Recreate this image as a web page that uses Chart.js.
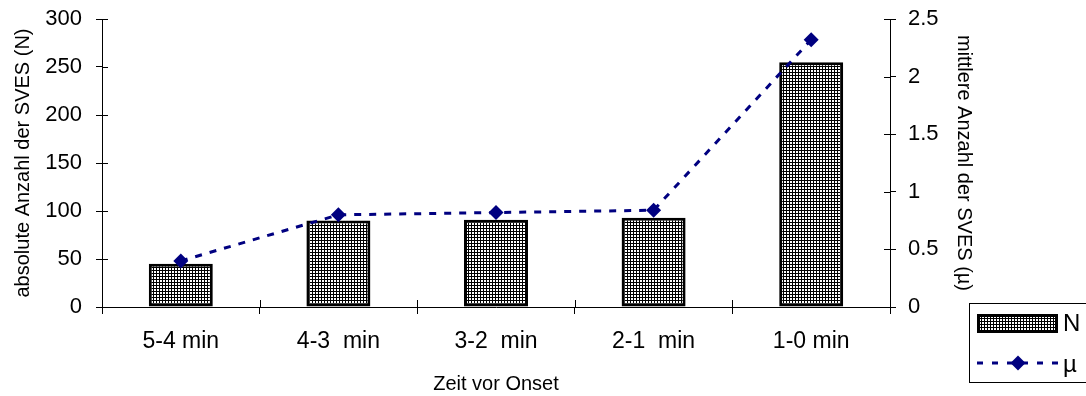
<!DOCTYPE html>
<html lang="de">
<head>
<meta charset="UTF-8">
<title>SVES vor Onset</title>
<style>
    body { margin: 0; padding: 0; background: #fff; }
    #wrap { width: 1086px; height: 396px; }
</style>
</head>
<body>
<div id="wrap"><canvas id="chart" width="1086" height="396"></canvas></div>

<script src="https://cdn.jsdelivr.net/npm/chart.js"></script>
<script>
// data
const categories = ['5-4 min', '4-3  min', '3-2  min', '2-1  min', '1-0 min'];
const countN = [45, 90, 91, 93, 255];
const meanMu = [0.40, 0.80, 0.82, 0.84, 2.32];

const FONT = "'Liberation Sans', Arial, sans-serif";
const NAVY = '#000080';

// fine crosshatch used for the bars
function hatch(ctx) {
    const tile = document.createElement('canvas');
    tile.width = 3; tile.height = 3;
    const t = tile.getContext('2d');
    t.fillStyle = '#fff';
    t.fillRect(0, 0, 3, 3);
    t.fillStyle = '#000';
    t.fillRect(0, 0, 3, 1);
    t.fillRect(0, 0, 1, 3);
    return ctx.createPattern(tile, 'repeat');
}

const ctx = document.getElementById('chart').getContext('2d');
const barFill = hatch(ctx);

// tick marks that also cross into the plot area
const innerTicks = {
    id: 'innerTicks',
    afterDraw(chart) {
        const c = chart.ctx;
        const { x, y, y1 } = chart.scales;
        c.save();
        c.strokeStyle = '#000';
        c.lineWidth = 1;
        c.beginPath();
        y.ticks.forEach((t, i) => {
            const py = Math.round(y.getPixelForTick(i)) + 0.5;
            c.moveTo(y.right, py); c.lineTo(y.right + 6, py);
        });
        y1.ticks.forEach((t, i) => {
            const py = Math.round(y1.getPixelForTick(i)) + 0.5;
            c.moveTo(y1.left - 6, py); c.lineTo(y1.left, py);
        });
        for (let i = 0; i <= categories.length; i++) {
            const px = Math.round(x.getPixelForValue(i - 0.5)) + 0.5;
            c.moveTo(px, x.top - 7); c.lineTo(px, x.top);
        }
        c.stroke();
        c.restore();
    }
};

// legend box at bottom right
const boxLegend = {
    id: 'boxLegend',
    afterDraw(chart) {
        const c = chart.ctx;
        c.save();
        c.strokeStyle = '#000';
        c.lineWidth = 1;
        c.strokeRect(969.5, 303.5, 130, 79);

        c.fillStyle = barFill;
        c.fillRect(977, 314, 81, 19);
        c.lineWidth = 3;
        c.strokeRect(978.5, 315.5, 78, 16);

        c.strokeStyle = NAVY;
        c.lineWidth = 3;
        c.setLineDash([6, 9]);
        c.beginPath();
        c.moveTo(977, 363); c.lineTo(1062, 363);
        c.stroke();
        c.setLineDash([]);
        c.fillStyle = NAVY;
        c.beginPath();
        c.moveTo(1018, 355.5); c.lineTo(1025.5, 363); c.lineTo(1018, 370.5); c.lineTo(1010.5, 363);
        c.closePath();
        c.fill();

        c.fillStyle = '#000';
        c.font = '24px ' + FONT;
        c.textBaseline = 'middle';
        c.textAlign = 'left';
        c.fillText('N', 1063, 324);
        c.fillText('µ', 1063, 365);
        c.restore();
    }
};

new Chart(ctx, {
    type: 'bar',
    data: {
        labels: categories,
        datasets: [{
            label: 'N',
            data: countN,
            yAxisID: 'y',
            backgroundColor: barFill,
            borderColor: '#000',
            borderWidth: 3,
            borderSkipped: false,
            categoryPercentage: 1,
            barPercentage: 0.406,
            order: 2
        }, {
            type: 'line',
            label: 'µ',
            data: meanMu,
            yAxisID: 'y1',
            borderColor: NAVY,
            borderWidth: 3,
            borderDash: [7, 8],
            pointStyle: 'rectRot',
            pointRadius: 7.5,
            pointBackgroundColor: NAVY,
            pointBorderColor: NAVY,
            pointBorderWidth: 0,
            tension: 0,
            order: 1
        }]
    },
    options: {
        responsive: false,
        devicePixelRatio: 1,
        animation: false,
        layout: { padding: { top: 19, left: 0, right: 110, bottom: 0 } },
        plugins: {
            legend: { display: false },
            tooltip: { enabled: false }
        },
        scales: {
            x: {
                grid: { display: true, offset: true, drawOnChartArea: false, tickLength: 7, color: '#000' },
                border: { display: true, color: '#000' },
                ticks: { color: '#000', font: { family: FONT, size: 23 }, padding: 14, maxRotation: 0 },
                title: { display: true, text: 'Zeit vor Onset', color: '#000', font: { family: FONT, size: 20 }, padding: { top: 0, bottom: 0 } },
                afterFit(s) { s.height = 89; s.paddingLeft = 0; s.paddingRight = 0; }
            },
            y: {
                position: 'left',
                min: 0, max: 300,
                ticks: { stepSize: 50, color: '#000', font: { family: FONT, size: 22 }, padding: 14 },
                grid: { drawOnChartArea: false, tickLength: 6, color: '#000' },
                border: { display: true, color: '#000' },
                title: { display: true, text: 'absolute Anzahl der SVES (N)', color: '#000', font: { family: FONT, size: 20 }, padding: { top: 11, bottom: 0 } },
                afterFit(s) { s.width = 102; s.paddingTop = 0; s.paddingBottom = 0; }
            },
            y1: {
                position: 'right',
                min: 0, max: 2.5,
                ticks: { stepSize: 0.5, color: '#000', font: { family: FONT, size: 22 }, padding: 12, callback: v => String(v) },
                grid: { drawOnChartArea: false, tickLength: 6, color: '#000' },
                border: { display: true, color: '#000' },
                title: { display: true, text: 'mittlere Anzahl der SVES (µ)', color: '#000', font: { family: FONT, size: 20 }, padding: { top: 0, bottom: 0 } },
                afterFit(s) { s.width = 86; s.paddingTop = 0; s.paddingBottom = 0; }
            }
        }
    },
    plugins: [innerTicks, boxLegend]
});
</script>
</body>
</html>
